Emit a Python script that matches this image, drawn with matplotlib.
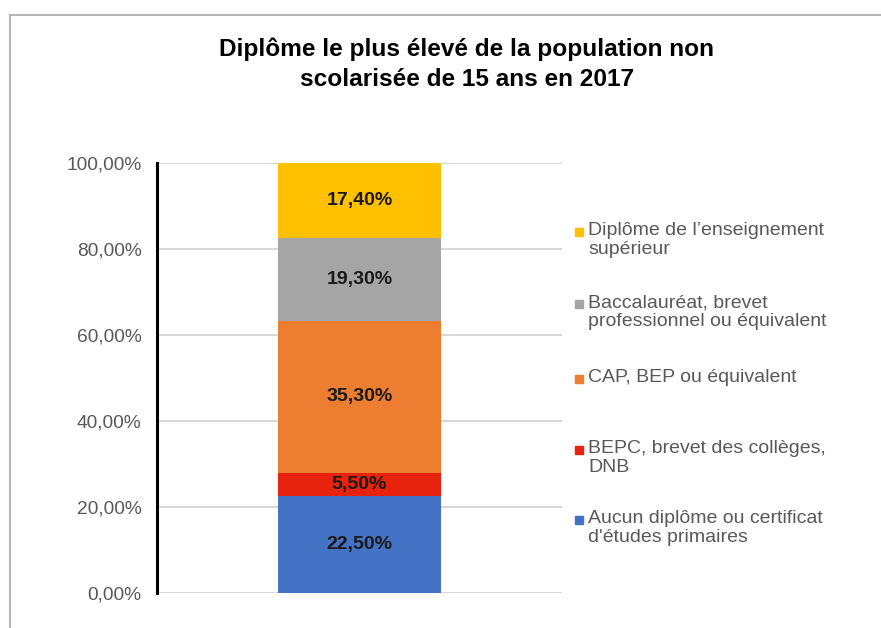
import matplotlib

matplotlib.use("Agg")
import matplotlib.pyplot as plt
from matplotlib.lines import Line2D

# --- data (bottom to top of the stacked bar) ---------------------------------
categories = [
    "Aucun diplôme ou certificat\nd'études primaires",
    "BEPC, brevet des collèges,\nDNB",
    "CAP, BEP ou équivalent",
    "Baccalauréat, brevet\nprofessionnel ou équivalent",
    "Diplôme de l’enseignement\nsupérieur",
]
values = [22.5, 5.5, 35.3, 19.3, 17.4]
colors = ["#4472C4", "#E8230D", "#ED7D31", "#A5A5A5", "#FFC000"]
yticks = [0, 20, 40, 60, 80, 100]
title = "Diplôme le plus élevé de la population non\nscolarisée de 15 ans en 2017"

plt.rcParams["font.family"] = ["Liberation Sans", "DejaVu Sans"]

fig = plt.figure(figsize=(8.81, 6.28), dpi=100)
ax = fig.add_axes([0.178, 0.0557, 0.46, 0.6847])


def pct(v):
    return f"{v:.2f}".replace(".", ",") + "%"


bottom = 0.0
for val, col in zip(values, colors):
    ax.bar(0, val, width=0.4, bottom=bottom, color=col, zorder=3)
    ax.text(0, bottom + val / 2, pct(val), ha="center", va="center",
            fontsize=14, fontweight="bold", color="#1a1a1a", zorder=4)
    bottom += val

ax.set_xlim(-0.5, 0.5)
ax.set_ylim(0, 100)
ax.set_yticks(yticks)
ax.set_yticklabels([pct(t) for t in yticks], fontsize=13.8, color="#595959")
ax.set_xticks([])
ax.tick_params(axis="y", length=0, pad=11)
ax.grid(axis="y", color="#D4D4D4", lw=1.3, zorder=0)
for side in ("top", "right", "bottom"):
    ax.spines[side].set_visible(False)
ax.spines["left"].set_linewidth(2.2)
ax.spines["left"].set_color("black")
ax.spines["left"].set_zorder(5)

fig.text(0.53, 0.8975, title, ha="center", va="center", fontsize=17.6,
         fontweight="bold", color="black", linespacing=1.42)

# legend, top entry first, placed by hand like the original
legend_y = [240, 312, 377, 458, 528]  # pixel centres, from top
for lab, col, py in zip(categories[::-1], colors[::-1], legend_y):
    nlines = lab.count("\n") + 1
    yf = 1 - py / 628
    fig.text(588 / 881, yf, lab, ha="left", va="center", fontsize=14,
             color="#595959", linespacing=1.12)
    first = yf + (nlines - 1) * 9.5 / 628
    fig.add_artist(Line2D([579 / 881], [first - 1.5 / 628], marker="s",
                          markersize=5.5, color=col, lw=0))

# chart border (top and left edges visible)
fig.add_artist(Line2D([10 / 881, 1], [1 - 14.5 / 628] * 2, color="#A8A8A8", lw=1.2))
fig.add_artist(Line2D([10 / 881] * 2, [0, 1 - 14.5 / 628], color="#A8A8A8", lw=1.2))

fig.savefig("out.png", dpi=100)
